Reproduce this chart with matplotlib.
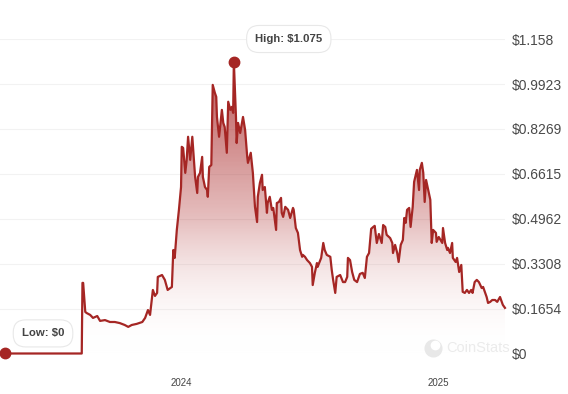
import numpy as np
import pandas as pd
import matplotlib
matplotlib.use("Agg")
import matplotlib.pyplot as plt
import matplotlib.dates as mdates
from matplotlib.colors import LinearSegmentedColormap
from matplotlib.lines import Line2D

# days since 2023-04-26 and price in USD
start = pd.Timestamp("2023-04-26")
days = [0, 109, 110, 111, 114, 116, 121, 125, 131, 135, 142, 149, 156, 163, 170, 175, 180, 187,
        195, 199, 203, 206, 210, 213, 216, 217, 223, 227, 231, 237, 239, 241, 244, 247, 250, 251,
        253, 256, 258, 260, 263, 266, 267, 270, 273, 274, 277, 280, 281, 284, 287, 288, 290, 293,
        295, 298, 300, 301, 304, 308, 310, 312, 315, 317, 320, 322, 324, 325, 328, 329, 331, 334,
        338, 341, 344, 345, 349, 352, 355, 358, 359, 362, 365, 366, 369, 372, 373, 376, 379, 381,
        385, 386, 389, 392, 393, 395, 398, 402, 405, 409, 410, 413, 416, 419, 422, 423, 426, 429,
        433, 436, 437, 440, 443, 444, 449, 452, 454, 457, 462, 464, 466, 469, 471, 476, 480, 483,
        486, 487, 490, 493, 496, 500, 504, 508, 511, 514, 517, 520, 523, 525, 528, 531, 535, 537,
        540, 542, 547, 550, 551, 554, 557, 559, 562, 565, 567, 569, 571, 574, 576, 579, 581, 584,
        585, 588, 589, 592, 594, 596, 598, 601, 604, 606, 608, 612, 613, 616, 621, 622, 625, 628,
        629, 632, 635, 636, 640, 642, 645, 648, 650, 653, 656, 659, 662, 664, 667, 670, 673, 677,
        679, 682, 684, 686, 689, 692, 696, 699, 703, 706, 707, 710]
prices = [0, 0, 0.26, 0.26, 0.153, 0.149, 0.142, 0.131, 0.138, 0.120, 0.123, 0.116, 0.116, 0.112,
          0.105, 0.098, 0.105, 0.109, 0.116, 0.131, 0.160, 0.142, 0.234, 0.212, 0.223, 0.282, 0.289,
          0.271, 0.234, 0.245, 0.381, 0.352, 0.455, 0.529, 0.613, 0.761, 0.757, 0.665, 0.713, 0.798,
          0.713, 0.798, 0.761, 0.650, 0.591, 0.650, 0.665, 0.724, 0.650, 0.613, 0.602, 0.577, 0.687,
          0.694, 0.989, 0.960, 0.945, 0.871, 0.798, 0.897, 0.849, 0.834, 0.739, 0.927, 0.897, 0.908,
          0.886, 1.075, 0.871, 0.775, 0.849, 0.812, 0.871, 0.823, 0.724, 0.702, 0.739, 0.665, 0.540,
          0.484, 0.577, 0.628, 0.658, 0.602, 0.613, 0.518, 0.554, 0.577, 0.529, 0.536, 0.455, 0.554,
          0.558, 0.573, 0.518, 0.503, 0.540, 0.529, 0.499, 0.536, 0.529, 0.462, 0.444, 0.381, 0.356,
          0.363, 0.356, 0.344, 0.333, 0.319, 0.252, 0.297, 0.333, 0.319, 0.352, 0.407, 0.381, 0.363,
          0.356, 0.308, 0.271, 0.223, 0.282, 0.289, 0.263, 0.263, 0.282, 0.352, 0.344, 0.300, 0.271,
          0.263, 0.293, 0.297, 0.278, 0.356, 0.370, 0.459, 0.466, 0.470, 0.407, 0.440, 0.407, 0.473,
          0.466, 0.437, 0.425, 0.407, 0.370, 0.400, 0.370, 0.337, 0.400, 0.418, 0.499, 0.481, 0.529,
          0.536, 0.466, 0.540, 0.632, 0.665, 0.676, 0.602, 0.676, 0.702, 0.665, 0.558, 0.639, 0.602,
          0.566, 0.407, 0.455, 0.444, 0.411, 0.429, 0.407, 0.462, 0.407, 0.381, 0.389, 0.370, 0.407,
          0.352, 0.337, 0.352, 0.300, 0.326, 0.227, 0.223, 0.234, 0.223, 0.234, 0.223, 0.263, 0.271,
          0.263, 0.241, 0.245, 0.223, 0.208, 0.186, 0.190, 0.197, 0.197, 0.190, 0.208, 0.186, 0.179,
          0.168]
yticks = [0, 0.1654, 0.3308, 0.4962, 0.6615, 0.8269, 0.9923, 1.158]
ytick_labels = ["$0", "$0.1654", "$0.3308", "$0.4962", "$0.6615", "$0.8269", "$0.9923", "$1.158"]
high_label = "High: $1.075"
low_label = "Low: $0"

dates = start + pd.to_timedelta(days, unit="D")
xn = mdates.date2num(dates)
vals = np.array(prices)
line_c = "#a52624"

plt.rcParams["font.family"] = ["Liberation Sans", "DejaVu Sans"]
fig = plt.figure(figsize=(5.68, 3.94), dpi=100)
ax = fig.add_axes([0, 0.1028, 0.889, 0.7982])

# gradient fill under the line
cmap = LinearSegmentedColormap.from_list(
    "g", [(0, (1, 1, 1, 0)), (0.45, (0.68, 0.18, 0.18, 0.30)), (1, (0.66, 0.16, 0.16, 0.78))])
grad = np.linspace(0, 1, 256).reshape(-1, 1)
im = ax.imshow(grad, cmap=cmap, aspect="auto", origin="lower",
               extent=[xn[0], xn[-1], 0, vals.max()], zorder=1)
poly = ax.fill_between(xn, vals, 0, color="none")
im.set_clip_path(poly.get_paths()[0], transform=ax.transData)

ax.plot(xn, vals, color=line_c, lw=1.6, zorder=3, clip_on=False, solid_joinstyle="round")
hi = int(np.argmax(vals))
ax.plot(xn[hi], vals[hi], "o", color=line_c, ms=7.5, zorder=4, clip_on=False)
ax.plot(xn[0], vals[0], "o", color=line_c, ms=7.5, zorder=4, clip_on=False)

ax.set_xlim(xn[0] - 7.1, xn[-1])
ax.set_ylim(0, 1.158)
ax.set_yticks(yticks)
ax.set_yticklabels(ytick_labels)
ax.yaxis.tick_right()
ax.tick_params(axis="y", length=0, pad=5, labelsize=10, labelcolor="#4a4a4a")
ax.set_xticks(mdates.date2num([pd.Timestamp("2024-01-01"), pd.Timestamp("2025-01-01")]))
ax.set_xticklabels(["2024", "2025"])
ax.tick_params(axis="x", length=0, pad=18, labelsize=7, labelcolor="#444444")
ax.grid(axis="y", color="#f2f2f2", lw=0.8)
ax.set_axisbelow(True)
for s in ax.spines.values():
    s.set_visible(False)

box = dict(boxstyle="round,pad=0.75,rounding_size=1.1", fc="white", ec="#e8e8e8", lw=0.8)
ax.text(xn[hi] + 78, 1.158, high_label, ha="center", va="center", fontsize=8.2,
        fontweight="bold", color="#444444", bbox=box, zorder=5)
ax.text(xn[0] + 54, 0.074, low_label, ha="center", va="center", fontsize=8.2,
        fontweight="bold", color="#444444", bbox=box, zorder=5)

# watermark
fig.text(0.785, 0.118, "CoinStats", fontsize=10.5, color="#ebebeb", va="center", ha="left")
fig.add_artist(Line2D([0.763], [0.118], marker="o", ms=12, color="#e8e8e8",
                      transform=fig.transFigure))
fig.add_artist(Line2D([0.766], [0.124], marker="o", ms=6, color="white",
                      transform=fig.transFigure))

fig.savefig("out.png", dpi=100)
